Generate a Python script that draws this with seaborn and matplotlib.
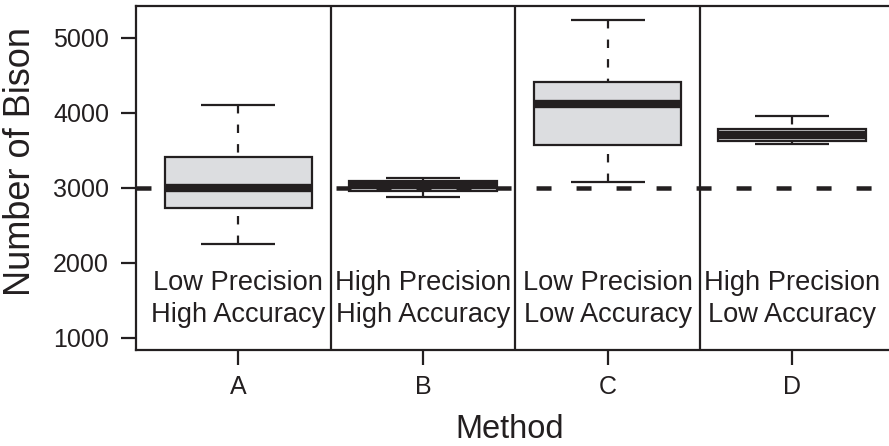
import numpy as np
import pandas as pd
import matplotlib
matplotlib.use("Agg")
import matplotlib.pyplot as plt
import seaborn as sns

# Five-number summaries of the bison counts for each survey method
methods = ["A", "B", "C", "D"]
count_min = [2245, 2880, 3070, 3585]
count_q1 = [2725, 2960, 3570, 3625]
count_median = [3000, 3030, 4110, 3697]
count_q3 = [3412, 3092, 4413, 3785]
count_max = [4100, 3128, 5238, 3950]

precision_labels = ["Low Precision", "High Precision", "Low Precision", "High Precision"]
accuracy_labels = ["High Accuracy", "High Accuracy", "Low Accuracy", "Low Accuracy"]

true_count = 3000
y_ticks = [1000, 2000, 3000, 4000, 5000]

INK = "#231f20"
BOX_FILL = "#dcdde0"

rows = []
for i, m in enumerate(methods):
    for v in (count_min[i], count_q1[i], count_median[i], count_q3[i], count_max[i]):
        rows.append({"Method": m, "count": v})
df = pd.DataFrame(rows)

sns.set_style("ticks")
plt.rcParams["font.family"] = ["Liberation Sans", "DejaVu Sans"]

W, H = 889, 446
fig = plt.figure(figsize=(W / 100, H / 100), dpi=100)
left_px, right_px, top_px, bottom_px = 136, 889, 6, 350
ax = fig.add_axes([left_px / W, 1 - bottom_px / H,
                   (right_px - left_px) / W, (bottom_px - top_px) / H])

lw = 1.6
sns.boxplot(
    data=df, x="Method", y="count", order=methods, ax=ax,
    color=BOX_FILL, saturation=1, linecolor=INK, linewidth=lw,
    width=0.8, whis=(0, 100), showfliers=False,
    medianprops=dict(linewidth=6.0, solid_capstyle="butt", color=INK),
    whiskerprops=dict(linestyle=(0, (3.8, 5.0)), linewidth=lw, color=INK, gid="whisker"),
    capprops=dict(linewidth=lw, color=INK, solid_capstyle="butt"),
)

# draw whisker dash patterns starting from the cap end
for line in ax.lines:
    if line.get_gid() == "whisker":
        xd, yd = line.get_data()
        line.set_data(np.asarray(xd)[::-1], np.asarray(yd)[::-1])

# separators between methods
for xs in (0.5, 1.5, 2.5):
    ax.axvline(xs, color=INK, lw=lw, zorder=4)

# true population size
ax.axhline(true_count, color=INK, lw=3.24, linestyle=(0, (3.33, 5.56)),
           dash_capstyle="butt", zorder=6)

# method descriptions
for i in range(len(methods)):
    ax.text(i, 1636, precision_labels[i], ha="center", va="baseline",
            fontsize=19.6, color=INK, zorder=7)
    ax.text(i, 1213, accuracy_labels[i], ha="center", va="baseline",
            fontsize=19.6, color=INK, zorder=7)

x0 = (left_px - 238.4) / 184.6
x1 = (right_px - 238.4) / 184.6
ax.set_xlim(x0, x1)
ax.set_ylim(836, 5422)
ax.set_yticks(y_ticks)
ax.set_yticklabels([str(t) for t in y_ticks])

for side in ("left", "bottom", "top"):
    ax.spines[side].set_visible(True)
    ax.spines[side].set_linewidth(lw)
    ax.spines[side].set_color(INK)
ax.spines["right"].set_visible(False)

ax.tick_params(axis="both", direction="out", length=10.8, width=lw,
               color=INK, labelsize=18, labelcolor=INK)
ax.tick_params(axis="y", pad=8.6)
ax.tick_params(axis="x", pad=7.5)

ax.set_xlabel("Method", fontsize=23.5, color=INK)
ax.set_ylabel("Number of Bison", fontsize=26, color=INK)
ax.xaxis.label.set_va("center")
ax.yaxis.label.set_va("center")
ax.xaxis.set_label_coords((510 - left_px) / (right_px - left_px),
                          (bottom_px - 429) / (bottom_px - top_px))
ax.yaxis.set_label_coords((21 - left_px) / (right_px - left_px),
                          (bottom_px - 161) / (bottom_px - top_px))

fig.savefig("out.png", dpi=100)
